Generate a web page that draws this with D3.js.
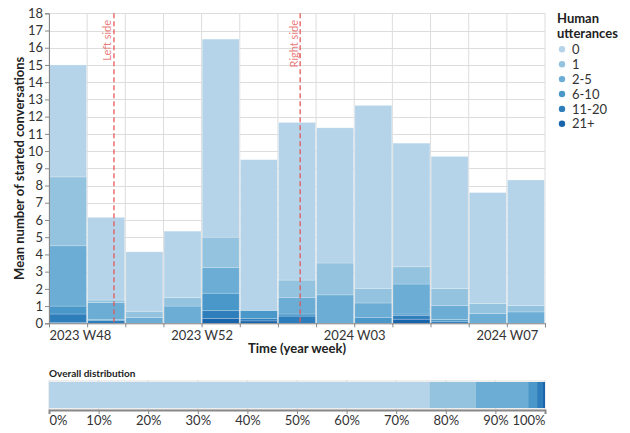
<!DOCTYPE html>
<html>
<head>
<meta charset="utf-8">
<script src="https://cdn.jsdelivr.net/npm/d3@7"></script>
<style>
  html, body { margin: 0; padding: 0; background: #fff; }
  svg { display: block; font-family: Lato, "Open Sans", sans-serif; }
</style>
</head>
<body>
<svg id="chart" width="630" height="433"></svg>
<script>
// ---------- DATA ----------
const weekStarts = ["2023-11-26","2023-12-03","2023-12-10","2023-12-17","2023-12-24","2023-12-31",
  "2024-01-07","2024-01-14","2024-01-21","2024-01-28","2024-02-04","2024-02-11","2024-02-18"];
const categories = ["0", "1", "2-5", "6-10", "11-20", "21+"];
const colors = ["#b5d4e9", "#94c3df", "#6badd5", "#4a97c9", "#2f7ebc", "#1865ab"];
// mean number of started conversations per week, by number of human utterances
const utt0    = [6.5, 4.8, 3.45, 3.85, 11.5, 8.75, 9.15, 7.85, 10.62, 7.18, 7.67, 6.45, 7.3];
const utt1    = [4.0, 0.15, 0.37, 0.5, 1.75, 0, 1.0, 1.85, 0.85, 1.0, 1.0, 0.58, 0.36];
const utt2_5  = [3.5, 0.97, 0.33, 1.0, 1.5, 0, 0.97, 1.65, 0.83, 1.74, 0.8, 0.56, 0.66];
const utt6_10 = [0.46, 0.08, 0, 0, 1.02, 0.46, 0.12, 0, 0.35, 0.1, 0.1, 0, 0];
const utt11_20= [0.5, 0.15, 0, 0, 0.44, 0.15, 0.42, 0, 0, 0.2, 0.12, 0, 0];
const utt21   = [0.04, 0, 0, 0, 0.29, 0.14, 0, 0, 0, 0.24, 0, 0, 0];
const yTicks = [0,1,2,3,4,5,6,7,8,9,10,11,12,13,14,15,16,17,18];
const xTickDates = ["2023-11-26","2023-12-24","2024-01-21","2024-02-18"];
const xTickLabels = ["2023 W48", "2023 W52", "2024 W03", "2024 W07"];
const markers = [{date: "2023-12-07T22:00", label: "Left side"}, {date: "2024-01-11T02:00", label: "Right side"}];
// overall distribution (share of conversations)
const overallShare = [0.767, 0.093, 0.106, 0.018, 0.012, 0.004];
const overallTicks = [0,0.1,0.2,0.3,0.4,0.5,0.6,0.7,0.8,0.9,1.0];

// ---------- LAYOUT ----------
const svg = d3.select("#chart");
const L = 49, R = 545, T = 13.3, B = 323.3;
const parse = s => new Date(s.length > 10 ? s : s + "T00:00");
const dates = weekStarts.map(parse);
const endDate = d3.timeDay.offset(dates[dates.length - 1], 7);
const x = d3.scaleTime().domain([dates[0], endDate]).range([L, R]);
const y = d3.scaleLinear().domain([0, 18]).range([B, T]);
const color = d3.scaleOrdinal().domain(categories).range(colors);

const series = [utt0, utt1, utt2_5, utt6_10, utt11_20, utt21];
const rows = dates.map((d, i) => {
  const r = {date: d};
  categories.forEach((c, k) => r[c] = series[k][i]);
  return r;
});
const stackKeys = categories.slice().reverse(); // 21+ at bottom
const stacked = d3.stack().keys(stackKeys)(rows);

// grid
const boundaries = dates.concat([endDate]);
const grid = svg.append("g");
grid.selectAll("line.h").data(yTicks).join("line")
  .attr("x1", L).attr("x2", R)
  .attr("y1", d => Math.round(y(d)) + 0.5).attr("y2", d => Math.round(y(d)) + 0.5)
  .attr("stroke", "#dddddd");
grid.selectAll("line.v").data(boundaries).join("line")
  .attr("x1", d => x(d)).attr("x2", d => x(d))
  .attr("y1", T).attr("y2", B)
  .attr("stroke", "#dddddd");

// bars
svg.append("g").selectAll("g").data(stacked).join("g")
  .attr("fill", s => color(s.key))
  .selectAll("rect").data(s => s).join("rect")
  .attr("x", d => x(d.data.date) + 0.6)
  .attr("width", d => x(d3.timeDay.offset(d.data.date, 7)) - x(d.data.date) - 1.2)
  .attr("y", d => y(d[1]))
  .attr("height", d => Math.max(0, y(d[0]) - y(d[1])))
  .attr("stroke", "#ffffff").attr("stroke-opacity", 0.35).attr("stroke-width", 0.6);

// y axis
const yAxis = svg.append("g").attr("transform", `translate(${L},0)`)
  .call(d3.axisLeft(y).tickValues(yTicks).tickSize(4).tickPadding(2).tickFormat(d3.format("d")));
yAxis.select(".domain").attr("stroke", "#888");
yAxis.selectAll(".tick line").attr("stroke", "#888");
yAxis.selectAll("text").attr("font-size", 13).attr("fill", "#333").attr("font-family", "Lato");

// x axis
const labelMap = new Map(xTickDates.map((d, i) => [+parse(d), xTickLabels[i]]));
const xAxis = svg.append("g").attr("transform", `translate(0,${B})`)
  .call(d3.axisBottom(x).tickValues(boundaries).tickSize(4).tickPadding(3)
    .tickFormat(d => labelMap.get(+d) || ""));
xAxis.select(".domain").attr("stroke", "#888");
xAxis.selectAll(".tick line").attr("stroke", "#888");
xAxis.selectAll("text").attr("font-size", 13).attr("fill", "#333").attr("font-family", "Lato")
  .attr("text-anchor", (d, i) => i === 0 ? "start" : "middle");

// axis titles
svg.append("text").attr("x", (L + R) / 2).attr("y", 353).attr("text-anchor", "middle")
  .attr("font-weight", "bold").attr("font-size", 13).attr("fill", "#222").text("Time (year week)");
svg.append("text").attr("transform", `translate(24,${(T + B) / 2}) rotate(-90)`).attr("text-anchor", "middle")
  .attr("font-weight", "bold").attr("font-size", 13).attr("fill", "#222").text("Mean number of started conversations");

// markers
const mk = svg.append("g").selectAll("g").data(markers).join("g");
mk.append("line")
  .attr("x1", d => x(parse(d.date))).attr("x2", d => x(parse(d.date)))
  .attr("y1", T).attr("y2", B)
  .attr("stroke", "#e45756").attr("stroke-width", 1.5).attr("stroke-dasharray", "5,3").attr("stroke-opacity", 0.85);
mk.append("text")
  .attr("transform", d => `translate(${x(parse(d.date)) - 2.5},20) rotate(-90)`)
  .attr("text-anchor", "end").attr("font-size", 11).attr("fill", "#e45756").attr("fill-opacity", 0.8)
  .text(d => d.label);

// legend
const lg = svg.append("g").attr("transform", "translate(557,0)");
lg.append("text").attr("x", 0).attr("y", 23).attr("font-weight", "bold").attr("font-size", 13).attr("fill", "#222").text("Human");
lg.append("text").attr("x", 0).attr("y", 38).attr("font-weight", "bold").attr("font-size", 13).attr("fill", "#222").text("utterances");
const li = lg.selectAll("g.item").data(categories).join("g")
  .attr("transform", (d, i) => `translate(0,${49.3 + i * 14.9})`);
li.append("circle").attr("cx", 5).attr("cy", 0).attr("r", 3.2).attr("fill", d => color(d));
li.append("text").attr("x", 15).attr("y", 4.6).attr("font-size", 13).attr("fill", "#333").text(d => d);

// overall distribution
svg.append("text").attr("x", L).attr("y", 377).attr("font-weight", "bold").attr("font-size", 10)
  .attr("fill", "#222").text("Overall distribution");
const xo = d3.scaleLinear().domain([0, 1]).range([L, R]);
const oTop = 380, oBot = 410;
svg.append("rect").attr("x", L).attr("y", oTop).attr("width", R - L).attr("height", oBot - oTop).attr("fill", "#eeeeee");
svg.append("g").selectAll("line").data(overallTicks).join("line")
  .attr("x1", d => xo(d)).attr("x2", d => xo(d)).attr("y1", oTop).attr("y2", oBot)
  .attr("stroke", "#dddddd");
const cum = d3.cumsum(overallShare);
svg.append("g").selectAll("rect").data(categories).join("rect")
  .attr("x", (d, i) => xo(i === 0 ? 0 : cum[i - 1]))
  .attr("width", (d, i) => xo(cum[i]) - xo(i === 0 ? 0 : cum[i - 1]))
  .attr("y", oTop + 2).attr("height", oBot - oTop - 4)
  .attr("fill", d => color(d));
const oAxis = svg.append("g").attr("transform", `translate(0,${oBot})`)
  .call(d3.axisBottom(xo).tickValues(overallTicks).tickSize(4).tickPadding(2).tickFormat(d3.format(".0%")));
oAxis.select(".domain").attr("stroke", "#888").attr("stroke-width", 2);
oAxis.selectAll(".tick line").attr("stroke", "#888");
oAxis.selectAll("text").attr("font-size", 13).attr("fill", "#333").attr("font-family", "Lato")
  .attr("text-anchor", (d, i) => i === 0 ? "start" : (i === overallTicks.length - 1 ? "end" : "middle"));
</script>
</body>
</html>
